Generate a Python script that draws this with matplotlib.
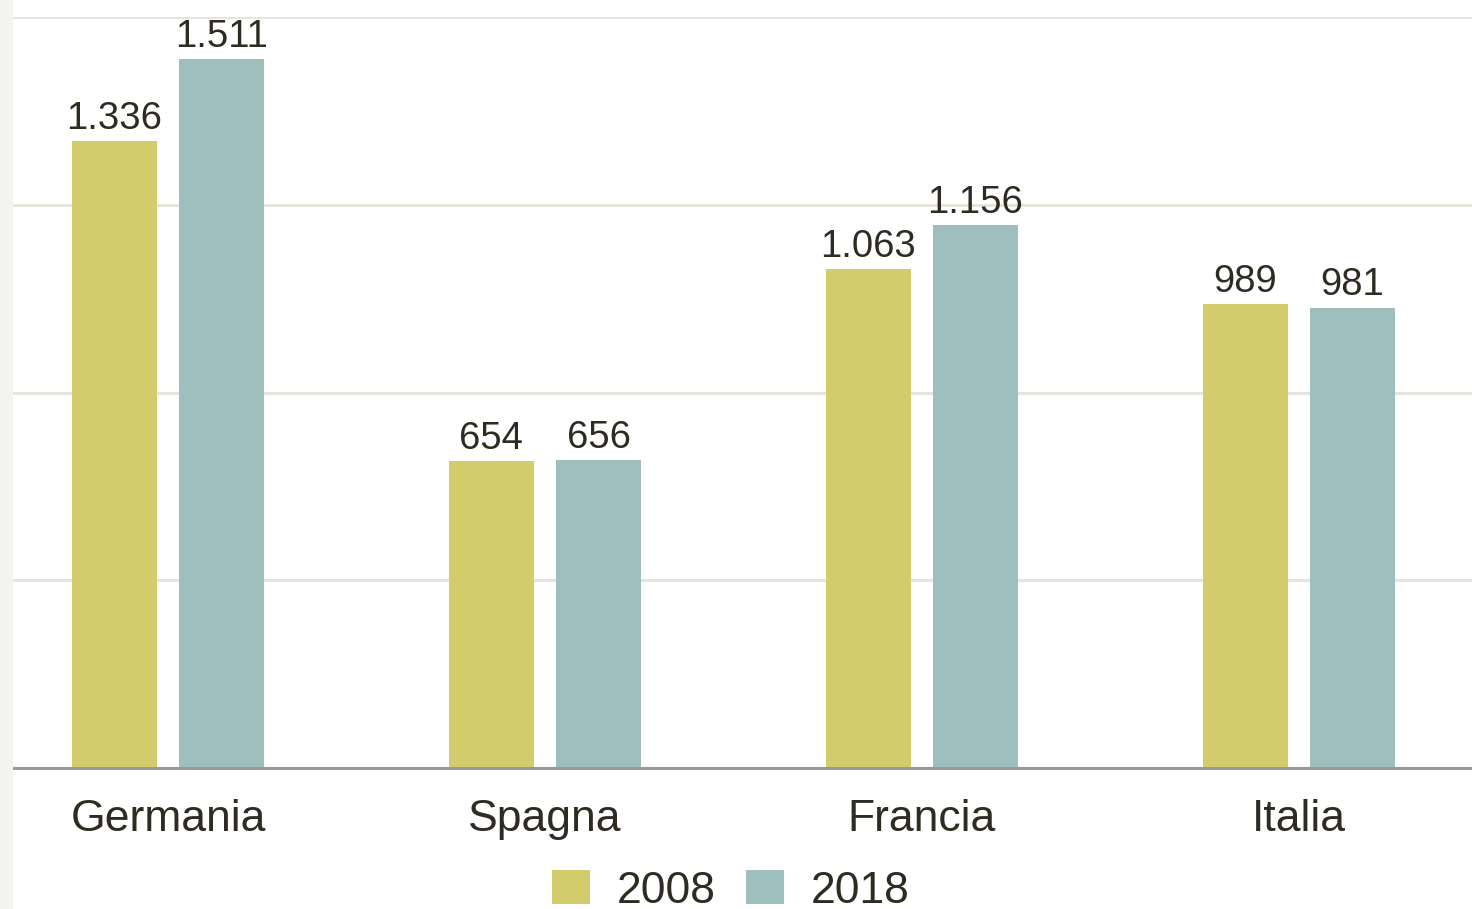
import matplotlib.pyplot as plt
import matplotlib.patches as mpatches
import numpy as np

plt.rcParams['font.family'] = ['Liberation Sans', 'DejaVu Sans']

paesi = ['Germania', 'Spagna', 'Francia', 'Italia']
val_2008 = [1336, 654, 1063, 989]
val_2018 = [1511, 656, 1156, 981]
anni = ['2008', '2018']

col_2008 = '#d3cc6c'
col_2018 = '#9ebfbd'
testo = '#2e2c22'

def fmt_it(v):
	# separatore migliaia all'italiana
	return '{:,}'.format(v).replace(',', '.')

fig = plt.figure(figsize=(14.72, 9.09), dpi=100)
fig.patch.set_facecolor('white')
# striscia grigia a sinistra
fig.patches.append(mpatches.Rectangle((0, 0), 13/1472., 1, transform=fig.transFigure,
	facecolor='#f3f3f1', edgecolor='none', zorder=0))

ax = fig.add_axes([13/1472., 1-768/909., 1-13/1472., (768-17)/909.])

x = np.arange(len(paesi))
w = 0.2255
off = 0.142
b1 = ax.bar(x - off, val_2008, w, color=col_2008, label=anni[0], zorder=3)
b2 = ax.bar(x + off, val_2018, w, color=col_2018, label=anni[1], zorder=3)

ax.bar_label(b1, labels=[fmt_it(v) for v in val_2008], padding=3, fontsize=27.5, color=testo)
ax.bar_label(b2, labels=[fmt_it(v) for v in val_2018], padding=3, fontsize=27.5, color=testo)

ax.set_xlim(-0.411, 3.459)
ax.set_ylim(0, 1600)
ax.set_yticks([400, 800, 1200, 1600])
ax.set_yticklabels([])
ax.tick_params(axis='y', length=0)
ax.grid(axis='y', color='#e6e4dc', linewidth=2.2, zorder=0)
ax.set_axisbelow(True)

ax.set_xticks(x)
ax.set_xticklabels(paesi, fontsize=32, color=testo)
ax.tick_params(axis='x', length=0, pad=22)

for s in ['left', 'right', 'top']:
	ax.spines[s].set_visible(False)
ax.spines['bottom'].set_color('#999999')
ax.spines['bottom'].set_linewidth(2.2)
ax.spines['bottom'].set_zorder(4)

leg = fig.legend(loc='center', bbox_to_anchor=(731/1472., 1-891/909.), ncol=2,
	frameon=False, fontsize=32, handlelength=0.84, handleheight=0.77,
	handletextpad=0.62, columnspacing=0.68)
for t in leg.get_texts():
	t.set_color(testo)

fig.savefig('out.png', dpi=100)
